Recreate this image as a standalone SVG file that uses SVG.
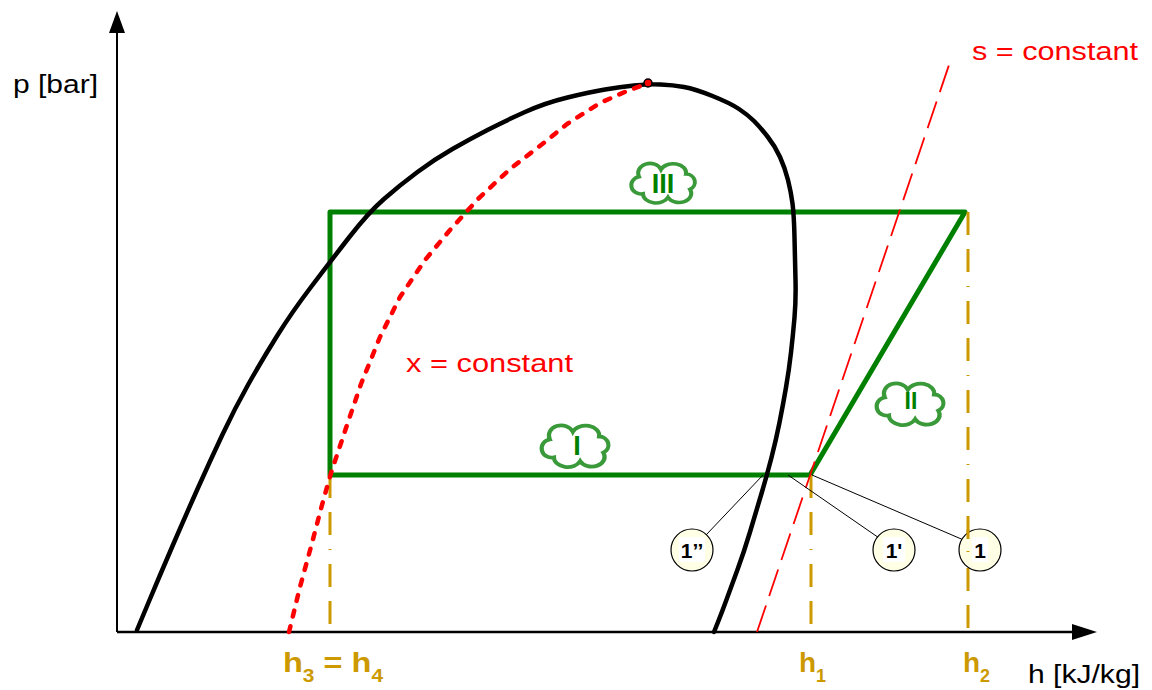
<svg xmlns="http://www.w3.org/2000/svg" xmlns:xlink="http://www.w3.org/1999/xlink" width="1152" height="690" viewBox="0 0 1152 690">
<style>
.lbl{font-family:"Liberation Sans",Arial,sans-serif;font-size:26px}
.red{fill:#ff0000}
.gold{fill:#cc9900;font-weight:bold;font-family:"Liberation Sans",Arial,sans-serif}
.roman{fill:#008000;font-weight:bold;font-family:"Liberation Sans",Arial,sans-serif;text-anchor:middle}
.cir{fill:#ffffe6;stroke:#000;stroke-width:1.2}
.cirt{font-family:"Liberation Sans",Arial,sans-serif;font-weight:bold;font-size:21px;fill:#000;text-anchor:middle}
.goldline{stroke:#cc9900;stroke-width:3;fill:none;stroke-dasharray:23 14 23 14 1 14}
.leader{stroke:#000;stroke-width:1;fill:none}
.cloud{fill:#fff;stroke:#3a9a3a;stroke-width:4}
</style>
<defs>
<path id="cloudp" d="M -25,-7 A 11,10 0 0 1 -3,-15 A 13,10 0 0 1 22,-10 A 9,9 0 0 1 26,7 A 12,10 0 0 1 4,16 A 13,10 0 0 1 -21,12 A 9,9 0 0 1 -25,-7 Z"/>
</defs>
<rect width="1152" height="690" fill="#fff"/>

<g id="axes">
<line x1="117" y1="632" x2="117" y2="32" stroke="#000" stroke-width="2"/>
<polygon points="117,11 109,33 125,33" fill="#000"/>
<line x1="117" y1="632" x2="1074" y2="632" stroke="#000" stroke-width="2.5"/>
<polygon points="1097,632 1072,624 1072,640" fill="#000"/>
<text class="lbl" x="13" y="93" textLength="85" lengthAdjust="spacingAndGlyphs">p [bar]</text>
<text class="lbl" x="1028" y="683" textLength="112" lengthAdjust="spacingAndGlyphs">h [kJ/kg]</text>
</g>

<g id="cycle">
<path d="M330,212 L965,212 L810,475 L330,475 Z" fill="none" stroke="#008000" stroke-width="5" stroke-linejoin="round"/>
</g>

<g id="connectors">
<line class="goldline" x1="330" y1="475" x2="330" y2="632"/>
<line class="goldline" x1="811" y1="475" x2="811" y2="632"/>
<line class="goldline" x1="968" y1="212" x2="968" y2="632"/>
<path id="saturation" d="M137,630 L148.5,602.5 Q160,575 172.5,546 Q185,517 197.5,489 Q210,461 222.5,434.5 Q235,408 248.5,384 Q262,360 277,336 Q292,312 311,287 Q330,262 349,237.5 Q368,213 384,199 Q400,185 417.5,172 Q435,159 452.5,149 Q470,139 487.5,130 Q505,121 525,112 Q545,103 567.5,97.5 Q590,92 605,89.5 Q620,87 634,85.5 Q648,84 660.5,84.5 Q673,85 684,87 Q695,89 712.5,96 Q730,103 739,109 Q748,115 754,121 Q760,127 767.5,136.5 Q775,146 780,157 Q785,168 788,180 Q791,192 792.5,203.5 Q794,215 794.5,237.5 Q795,260 795.5,280 Q796,300 794.5,317.5 Q793,335 791,352.5 Q789,370 786,387.5 Q783,405 779.5,422.5 Q776,440 771.5,457.5 Q767,475 761.5,493.5 Q756,512 750,532 Q744,552 737,571 Q730,590 726,601 Q722,612 718,622 L714,632" fill="none" stroke="#000" stroke-width="4.5" stroke-linejoin="round" stroke-linecap="round"/>
<path id="xconst" d="M289,632 L300,587 L312,543 L322,505 L331,473 L346,428 L361,384 L380,337 L400,297 L425,260 L450,230 L478,199 L510,169 L545,142 L567,124 L600,103 L627,91 L646,84" fill="none" stroke="#ff0000" stroke-width="4.5" stroke-dasharray="6 10" stroke-linecap="round" stroke-linejoin="round"/>
<line id="sconst" x1="757" y1="632" x2="950" y2="62" stroke="#ff0000" stroke-width="1.8" stroke-dasharray="28 10"/>
<circle cx="648" cy="83" r="4" fill="#ff0000" stroke="#000" stroke-width="1.5"/>
<line class="leader" x1="763" y1="475" x2="706" y2="535"/>
<line class="leader" x1="788" y1="475" x2="882" y2="540"/>
<line class="leader" x1="812" y1="475" x2="966" y2="541"/>
</g>

<g id="labels-red">
<text class="lbl red" x="972" y="60" textLength="166" lengthAdjust="spacingAndGlyphs">s = constant</text>
<text class="lbl red" x="406" y="372" textLength="167" lengthAdjust="spacingAndGlyphs">x = constant</text>
</g>

<g id="cloud-III">
<use xlink:href="#cloudp" href="#cloudp" class="cloud" transform="translate(664,183) scale(1,0.9)"/>
<text class="roman" x="663" y="193" font-size="27">III</text>
</g>
<g id="cloud-I">
<use xlink:href="#cloudp" href="#cloudp" class="cloud" transform="translate(576,446) scale(1.05,0.95)"/>
<text class="roman" x="577" y="455" font-size="27">I</text>
</g>
<g id="cloud-II">
<use xlink:href="#cloudp" href="#cloudp" class="cloud" transform="translate(911,404) scale(1.05,0.95)"/>
<text class="roman" x="911" y="409" font-size="23">II</text>
</g>

<g id="node-1pp">
<circle class="cir" cx="692" cy="550" r="21"/>
<rect x="679" y="537" width="26" height="25" fill="#fff"/>
<text class="cirt" x="692" y="558">1’’</text>
</g>
<g id="node-1p">
<circle class="cir" cx="894" cy="550" r="21"/>
<rect x="883" y="537" width="22" height="25" fill="#fff"/>
<text class="cirt" x="894" y="558">1'</text>
</g>
<g id="node-1">
<circle class="cir" cx="980" cy="550" r="21"/>
<line x1="968" y1="529" x2="968" y2="571" stroke="#cc9900" stroke-width="3" stroke-dasharray="10 12 1 30"/>
<rect x="972" y="537" width="16" height="25" fill="#fff"/>
<text class="cirt" x="980" y="558">1</text>
</g>

<g id="h-labels">
<text class="gold" x="283" y="672" font-size="28" textLength="100" lengthAdjust="spacingAndGlyphs">h<tspan font-size="18" dy="10">3</tspan><tspan dy="-10"> = h</tspan><tspan font-size="18" dy="10">4</tspan></text>
<text class="gold" x="799" y="672" font-size="28">h<tspan font-size="18" dy="10">1</tspan></text>
<text class="gold" x="963" y="672" font-size="28">h<tspan font-size="18" dy="10">2</tspan></text>
</g>
</svg>
